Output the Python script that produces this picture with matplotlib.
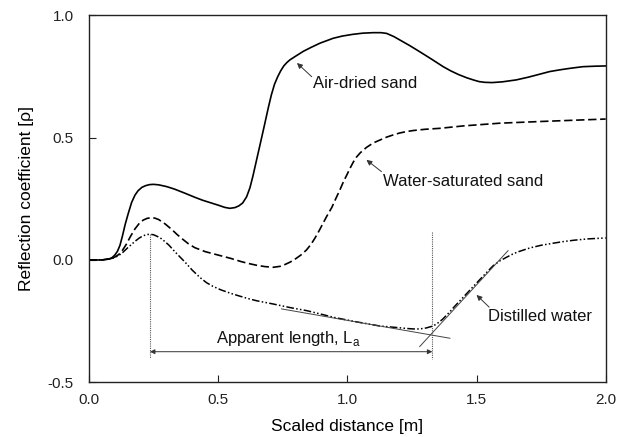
import matplotlib
matplotlib.use("Agg")
import matplotlib.pyplot as plt

plt.rcParams['font.family'] = ['Liberation Sans', 'DejaVu Sans']
plt.rcParams['axes.unicode_minus'] = False
plt.rcParams['mathtext.fontset'] = 'custom'
plt.rcParams['mathtext.rm'] = 'Liberation Sans'

# Air-dried sand (solid)
air_x = [0.0, 0.05, 0.08, 0.09, 0.10, 0.11, 0.12, 0.13, 0.14, 0.152, 0.165, 0.178, 0.19, 0.205,
         0.22, 0.235, 0.25, 0.27, 0.30, 0.33, 0.371, 0.41, 0.44, 0.47, 0.50, 0.525, 0.545, 0.565,
         0.58, 0.595, 0.61, 0.623, 0.635, 0.65, 0.664, 0.68, 0.694, 0.706, 0.718, 0.73, 0.742,
         0.754, 0.766, 0.778, 0.80, 0.83, 0.86, 0.894, 0.945, 0.98, 1.02, 1.06, 1.10, 1.13, 1.152,
         1.18, 1.21, 1.24, 1.268, 1.30, 1.33, 1.371, 1.40, 1.43, 1.461, 1.49, 1.51, 1.532, 1.56,
         1.60, 1.654, 1.70, 1.74, 1.783, 1.822, 1.86, 1.912, 1.96, 2.0]
air_y = [0.0, 0.0, 0.005, 0.01, 0.02, 0.035, 0.06, 0.10, 0.145, 0.19, 0.235, 0.265, 0.283, 0.297,
         0.304, 0.308, 0.309, 0.307, 0.30, 0.29, 0.273, 0.256, 0.244, 0.234, 0.224, 0.215, 0.211, 0.214,
         0.221, 0.233, 0.258, 0.295, 0.345, 0.415, 0.48, 0.555, 0.622, 0.675, 0.718, 0.748, 0.773,
         0.793, 0.807, 0.818, 0.833, 0.853, 0.869, 0.886, 0.906, 0.915, 0.922, 0.927, 0.929, 0.929, 0.926,
         0.913, 0.895, 0.877, 0.859, 0.838, 0.818, 0.79, 0.773, 0.758, 0.745, 0.735, 0.729, 0.726, 0.725,
         0.728, 0.736, 0.747, 0.758, 0.77, 0.777, 0.783, 0.79, 0.792, 0.793]

# Water-saturated sand (dashed)
wet_x = [0.0, 0.05, 0.08, 0.10, 0.115, 0.13, 0.145, 0.16, 0.178, 0.195, 0.21, 0.225, 0.242, 0.255,
         0.27, 0.295, 0.32, 0.34, 0.36, 0.385, 0.41, 0.45, 0.50, 0.55, 0.59, 0.62, 0.65, 0.68, 0.713,
         0.74, 0.76, 0.78, 0.80, 0.82, 0.842, 0.86, 0.875, 0.89, 0.906, 0.92, 0.94, 0.955, 0.971,
         0.985, 1.0, 1.012, 1.023, 1.035, 1.05, 1.074, 1.10, 1.13, 1.152, 1.18, 1.203, 1.23, 1.255,
         1.30, 1.358, 1.45, 1.59, 1.75, 1.9, 2.0]
wet_y = [0.0, 0.0, 0.004, 0.012, 0.022, 0.04, 0.065, 0.095, 0.127, 0.15, 0.163, 0.17, 0.173, 0.171,
         0.165, 0.147, 0.125, 0.105, 0.087, 0.066, 0.05, 0.034, 0.02, 0.006, -0.007, -0.015, -0.022, -0.027, -0.03,
         -0.026, -0.018, -0.008, 0.005, 0.02, 0.041, 0.065, 0.09, 0.118, 0.15, 0.178, 0.215, 0.25, 0.286,
         0.32, 0.352, 0.378, 0.40, 0.42, 0.438, 0.46, 0.478, 0.492, 0.502, 0.512, 0.519, 0.525, 0.529,
         0.534, 0.538, 0.548, 0.559, 0.566, 0.572, 0.576]

# Distilled water (dash-dot-dot)
dw_x = [0.0, 0.05, 0.08, 0.10, 0.115, 0.13, 0.15, 0.165, 0.178, 0.195, 0.21, 0.225, 0.236, 0.25,
        0.265, 0.28, 0.294, 0.31, 0.326, 0.345, 0.371, 0.40, 0.43, 0.455, 0.48, 0.51, 0.55, 0.584,
        0.62, 0.65, 0.713, 0.78, 0.842, 0.90, 0.945, 1.03, 1.126, 1.20, 1.229, 1.255, 1.28, 1.305,
        1.332, 1.35, 1.368, 1.384, 1.40, 1.415, 1.448, 1.48, 1.513, 1.54, 1.564, 1.59, 1.616, 1.64,
        1.66, 1.706, 1.75, 1.80, 1.835, 1.88, 1.93, 1.983, 2.0]
dw_y = [0.0, 0.0, 0.004, 0.01, 0.018, 0.03, 0.05, 0.064, 0.076, 0.09, 0.099, 0.104, 0.105, 0.103,
        0.096, 0.087, 0.075, 0.06, 0.041, 0.02, -0.008, -0.042, -0.072, -0.093, -0.108, -0.122, -0.137, -0.148,
        -0.159, -0.167, -0.18, -0.195, -0.207, -0.222, -0.234, -0.252, -0.27, -0.277, -0.28, -0.282, -0.282, -0.278,
        -0.27, -0.258, -0.243, -0.226, -0.208, -0.19, -0.153, -0.117, -0.08, -0.05, -0.024, -0.004, 0.011, 0.024,
        0.033, 0.049, 0.06, 0.069, 0.075, 0.081, 0.086, 0.089, 0.09]

# Construction lines
tan1_x = [0.745, 1.397]
tan1_y = [-0.20, -0.32]
tan2_x = [1.28, 1.622]
tan2_y = [-0.354, 0.038]
v1_x = [0.236, 0.236]
v1_y = [0.105, -0.402]
v2_x = [1.329, 1.329]
v2_y = [0.116, -0.406]

xticks = [0.0, 0.5, 1.0, 1.5, 2.0]
yticks = [-0.5, 0.0, 0.5, 1.0]

fig = plt.figure(figsize=(6.24, 4.37), dpi=100)
ax = fig.add_axes([0.1426, 0.1252, 0.8281, 0.8398])

ax.plot(air_x, air_y, color='black', lw=1.2, solid_joinstyle='round')
l2, = ax.plot(wet_x, wet_y, color='black', lw=1.2)
l2.set_dashes([5, 2.2])
l3, = ax.plot(dw_x, dw_y, color='black', lw=1.1)
l3.set_dashes([5, 1.5, 1, 1.5, 1, 1.5])

ax.plot(tan1_x, tan1_y, color='#444444', lw=0.7)
ax.plot(tan2_x, tan2_y, color='#444444', lw=0.7)
ax.plot(v1_x, v1_y, color='#555555', lw=0.8, ls=(0, (1, 1)))
ax.plot(v2_x, v2_y, color='#555555', lw=0.8, ls=(0, (1, 1)))

ax.annotate('', xy=(0.236, -0.375), xytext=(1.329, -0.375),
            arrowprops=dict(arrowstyle='<|-|>', lw=0.7, color='#333333',
                            mutation_scale=7, shrinkA=0, shrinkB=0))
ax.text(0.773, -0.338, 'Apparent length, L$_\\mathregular{a}$', ha='center', va='baseline',
        fontsize=12, color='#111111')

arrow = dict(arrowstyle='-|>', lw=0.7, color='#333333', mutation_scale=8, shrinkA=0, shrinkB=0)
ax.annotate('', xy=(0.805, 0.805), xytext=(0.862, 0.749), arrowprops=arrow)
ax.text(1.07, 0.722, 'Air-dried sand', ha='center', va='center', fontsize=12, color='#111111')
ax.annotate('', xy=(1.074, 0.409), xytext=(1.132, 0.361), arrowprops=arrow)
ax.text(1.448, 0.32, 'Water-saturated sand', ha='center', va='center', fontsize=12, color='#111111')
ax.annotate('', xy=(1.50, -0.143), xytext=(1.549, -0.193), arrowprops=arrow)
ax.text(1.747, -0.232, 'Distilled water', ha='center', va='center', fontsize=12, color='#111111')

ax.set_xlim(0, 2.0)
ax.set_ylim(-0.5, 1.0)
ax.set_xticks(xticks)
ax.set_yticks(yticks)
ax.set_xticklabels([f'{t:.1f}' for t in xticks])
ax.set_yticklabels([f'{t:.1f}' for t in yticks])
ax.tick_params(direction='in', length=5, width=0.8, labelsize=11, colors='#222222')
ax.tick_params(axis='x', pad=8)
ax.tick_params(axis='y', pad=11)
for s in ax.spines.values():
    s.set_linewidth(1.0)
    s.set_color('#222222')

ax.set_xlabel('Scaled distance [m]', fontsize=12.5, labelpad=8)
ax.set_ylabel('Reflection coefficient [ρ]', fontsize=12.5, labelpad=10)

fig.savefig('out.png', dpi=100)
